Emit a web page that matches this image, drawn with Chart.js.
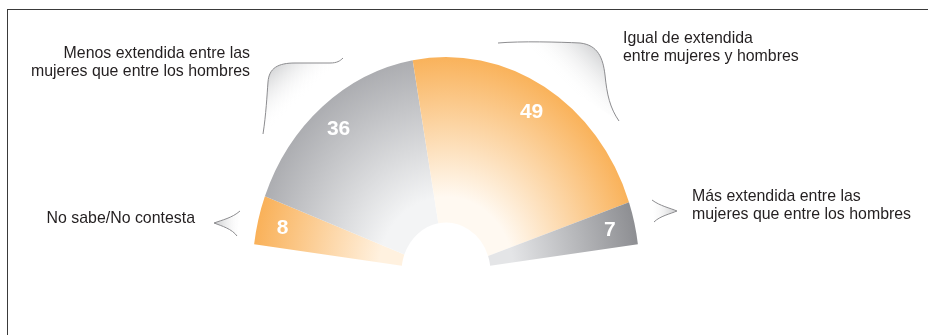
<!DOCTYPE html>
<html lang="es">
  <head>
    <meta charset="UTF-8" />
    <title>Extensión entre mujeres y hombres</title>
    <style>
      * {
        margin: 0;
        padding: 0;
        box-sizing: border-box;
      }
      body {
        width: 928px;
        height: 335px;
        background: #fff;
        overflow: hidden;
      }
      #marco {
        position: absolute;
        left: 7px;
        top: 9px;
        width: 940px;
        height: 340px;
        border-left: 1.3px solid #3a3a3a;
        border-top: 1.3px solid #3a3a3a;
      }
      #grafico {
        position: absolute;
        left: 0;
        top: 0;
      }
    </style>
  </head>
  <body>
    <div id="marco"></div>
    <div id="grafico">
      <canvas id="torta" width="928" height="335"></canvas>
    </div>

    <script src="https://cdn.jsdelivr.net/npm/chart.js"></script>
    <script>
      // respuestas, de izquierda a derecha
      const categorias = [
        ['No sabe/No contesta'],
        ['Menos extendida entre las', 'mujeres que entre los hombres'],
        ['Igual de extendida', 'entre mujeres y hombres'],
        ['Más extendida entre las', 'mujeres que entre los hombres']
      ]
      const valores = [8, 36, 49, 7]

      // colores: borde exterior y zona cercana al hueco
      const colorExterior = ['#F9AF55', '#AAABAF', '#F9B056', '#8B8C90']
      const colorInterior = ['#FFF1DF', '#F3F4F5', '#FFF9F1', '#E4E5E7']

      // el arco se dibuja algo más alto que ancho
      const centro = { x: 446, y: 272 }
      const escalaX = 0.9
      const radio = 215

      // dónde va cada texto de categoría
      const posTextos = [
        { x: 195, y: 223, align: 'right' },
        { x: 250, y: 58, align: 'right' },
        { x: 623, y: 43, align: 'left' },
        { x: 692, y: 201, align: 'left' }
      ]
      const interlinea = 17.8

      const degradado = (c) => {
        const chart = c.chart
        const area = chart.chartArea
        const i = c.dataIndex
        const ctrl = chart.getDatasetMeta(0).controller
        if (!area || !isFinite(ctrl.offsetX) || !isFinite(ctrl.outerRadius)) return colorExterior[i]
        const x = (area.left + area.right) / 2 + ctrl.offsetX
        const y = (area.top + area.bottom) / 2 + ctrl.offsetY
        const g = chart.ctx.createRadialGradient(x, y, ctrl.innerRadius, x, y, ctrl.outerRadius * 1.02)
        g.addColorStop(0, colorInterior[i])
        g.addColorStop(0.15, colorInterior[i])
        g.addColorStop(1, colorExterior[i])
        return g
      }

      // pasa un punto del arco (antes de escalar) a la página
      const aPagina = (arc, px, py) => ({
        x: centro.x + escalaX * (px - arc.x),
        y: centro.y + (py - arc.y)
      })

      const aplastar = {
        id: 'aplastar',
        beforeDatasetsDraw(chart) {
          const arc = chart.getDatasetMeta(0).data[0]
          const c = chart.ctx
          c.save()
          c.translate(centro.x, centro.y)
          c.scale(escalaX, 1)
          c.translate(-arc.x, -arc.y)
        },
        afterDatasetsDraw(chart) {
          const c = chart.ctx
          c.restore()

          // valores dentro de cada sector
          c.save()
          c.fillStyle = '#ffffff'
          c.font = 'bold 21px "Liberation Sans", Arial, sans-serif'
          c.textAlign = 'center'
          c.textBaseline = 'middle'
          chart.getDatasetMeta(0).data.forEach((arc, i) => {
            const medio = (arc.startAngle + arc.endAngle) / 2
            const r = arc.outerRadius * 0.87
            const p = aPagina(arc, arc.x + Math.cos(medio) * r, arc.y + Math.sin(medio) * r)
            c.fillText(String(valores[i]), p.x, p.y + 1)
          })
          c.restore()
        }
      }

      // llaves grises que señalan cada sector
      const llaves = {
        id: 'llaves',
        afterDraw(chart) {
          const c = chart.ctx
          c.save()
          c.lineWidth = 1
          c.strokeStyle = '#8c8c8f'

          const pinta = (trazo, g1, g2) => {
            const g = c.createLinearGradient(g1[0], g1[1], g2[0], g2[1])
            g.addColorStop(0, '#cbccce')
            g.addColorStop(1, 'rgba(255,255,255,0)')
            c.beginPath()
            trazo()
            c.closePath()
            c.fillStyle = g
            c.fill()
            c.beginPath()
            trazo()
            c.stroke()
          }

          pinta(() => {
            c.moveTo(263, 134)
            c.bezierCurveTo(266, 115, 267, 95, 268, 82)
            c.bezierCurveTo(269, 68, 278, 63, 295, 63)
            c.lineTo(330, 63)
            c.bezierCurveTo(337, 63, 340, 61, 343, 58)
          }, [268, 66], [300, 100])

          pinta(() => {
            c.moveTo(498, 43)
            c.bezierCurveTo(520, 41, 560, 42, 580, 43)
            c.bezierCurveTo(598, 45, 603, 58, 605, 75)
            c.bezierCurveTo(607, 95, 610, 108, 619, 121)
          }, [602, 48], [565, 85])

          pinta(() => {
            c.moveTo(240, 211)
            c.bezierCurveTo(232, 218, 222, 220, 214, 223)
            c.bezierCurveTo(222, 226, 232, 229, 237, 236)
          }, [215, 223], [242, 223])

          pinta(() => {
            c.moveTo(652, 200)
            c.bezierCurveTo(660, 206, 670, 208, 677, 211)
            c.bezierCurveTo(670, 214, 660, 216, 654, 222)
          }, [676, 211], [650, 211])

          // textos de las categorías
          c.fillStyle = '#231f20'
          c.font = '15.9px "Liberation Sans", Arial, sans-serif'
          c.textBaseline = 'alphabetic'
          categorias.forEach((lineas, i) => {
            const pos = posTextos[i]
            c.textAlign = pos.align
            lineas.forEach((t, k) => c.fillText(t, pos.x, pos.y + k * interlinea))
          })
          c.restore()
        }
      }

      const ctx = document.getElementById('torta')

      const grafico = new Chart(ctx, {
        type: 'doughnut',
        data: {
          labels: categorias,
          datasets: [{
            data: valores,
            backgroundColor: degradado,
            borderWidth: 0,
            hoverOffset: 0,
            clip: false
          }]
        },
        options: {
          responsive: false,
          animation: false,
          devicePixelRatio: 1,
          rotation: -82.6,
          circumference: 165.2,
          radius: radio,
          cutout: '23%',
          layout: { padding: 0 },
          events: [],
          plugins: {
            legend: { display: false },
            tooltip: { enabled: false }
          }
        },
        plugins: [aplastar, llaves]
      })
    </script>
  </body>
</html>
